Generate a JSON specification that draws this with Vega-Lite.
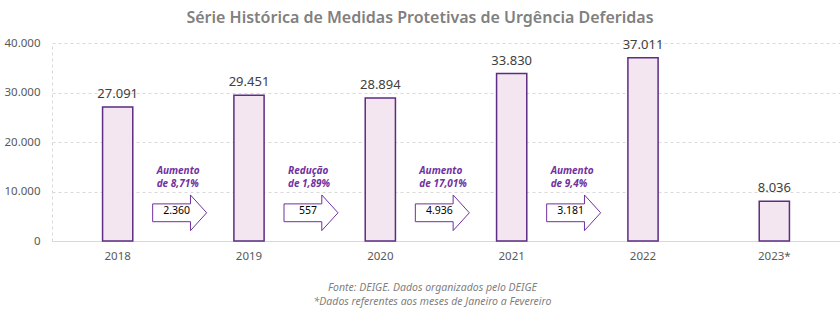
{
  "$schema": "https://vega.github.io/schema/vega-lite/v6.json",
  "width": 840,
  "height": 327,
  "autosize": {"type": "fit", "contains": "padding"},
  "padding": {"left": 4, "right": 0, "top": 10, "bottom": 20},
  "background": "white",
  "config": {
    "locale": {"number": {"decimal": ",", "thousands": ".", "grouping": [3], "currency": ["R$", ""]}},
    "view": {"stroke": null},
    "font": "Noto Sans"
  },
  "title": {
    "text": "Série Histórica de Medidas Protetivas de Urgência Deferidas",
    "fontSize": 16,
    "fontWeight": 600,
    "color": "#808080",
    "anchor": "middle",
    "frame": "group",
    "offset": 11,
    "dx": -26
  },
  "datasets": {
    "bars": [
      {"ano": "2018", "valor": 27091},
      {"ano": "2019", "valor": 29451},
      {"ano": "2020", "valor": 28894},
      {"ano": "2021", "valor": 33830},
      {"ano": "2022", "valor": 37011},
      {"ano": "2023*", "valor": 8036}
    ],
    "arrows": [
      {"de": "2018", "dif": 2360, "texto": ["Aumento", "de 8,71%"]},
      {"de": "2019", "dif": 557, "texto": ["Redução", "de 1,89%"]},
      {"de": "2020", "dif": 4936, "texto": ["Aumento", "de 17,01%"]},
      {"de": "2021", "dif": 3181, "texto": ["Aumento", "de 9,4%"]}
    ]
  },
  "layer": [
    {
      "data": {"name": "bars"},
      "mark": {"type": "bar", "fill": "#F3E6F1", "stroke": "#5C2D82", "strokeWidth": 1.5},
      "encoding": {
        "x": {
          "field": "ano", "type": "nominal", "sort": null,
          "scale": {"paddingInner": 0.77, "paddingOuter": 0.385},
          "axis": {
            "labelAngle": 0, "labelFontSize": 11.5, "labelColor": "#595959", "labelPadding": 9,
            "ticks": false, "domainColor": "#D9D9D9", "domainWidth": 1.2,
            "title": ["Fonte: DEIGE. Dados organizados pelo DEIGE", "*Dados referentes aos meses de Janeiro a Fevereiro"],
            "titleFontSize": 10.5, "titleFontStyle": "italic", "titleFontWeight": "normal",
            "titleColor": "#7F7F7F", "titlePadding": 21, "titleLineHeight": 14, "titleX": 380
          }
        },
        "y": {
          "field": "valor", "type": "quantitative",
          "scale": {"domain": [0, 40000], "nice": false},
          "axis": {
            "values": [0, 10000, 20000, 30000, 40000], "format": ",d",
            "labelFontSize": 11.5, "labelColor": "#595959", "labelPadding": 12,
            "ticks": false, "domain": true, "domainColor": "#D9D9D9", "domainDash": [3, 3],
            "gridColor": "#D9D9D9", "gridDash": [3, 3], "title": null
          }
        }
      }
    },
    {
      "data": {"name": "bars"},
      "mark": {"type": "text", "fontSize": 13, "color": "#404040", "baseline": "bottom", "dy": -6},
      "encoding": {
        "x": {"field": "ano", "type": "nominal", "sort": null},
        "y": {"field": "valor", "type": "quantitative"},
        "text": {"field": "valor", "type": "quantitative", "format": ",d"}
      }
    },
    {
      "data": {"name": "arrows"},
      "mark": {
        "type": "point", "filled": true, "fill": "white", "stroke": "#7030A0", "strokeWidth": 1,
        "opacity": 1, "size": 2916, "xOffset": 62,
        "shape": "M-1,-0.33 L0.4,-0.33 L0.4,-0.66 L1,0 L0.4,0.66 L0.4,0.33 L-1,0.33 Z"
      },
      "encoding": {
        "x": {"field": "de", "type": "nominal", "sort": null},
        "y": {"datum": 5700, "type": "quantitative"}
      }
    },
    {
      "data": {"name": "arrows"},
      "mark": {"type": "text", "fontSize": 10.5, "color": "#000000", "baseline": "middle", "dx": 59},
      "encoding": {
        "x": {"field": "de", "type": "nominal", "sort": null},
        "y": {"datum": 6100, "type": "quantitative"},
        "text": {"field": "dif", "type": "quantitative", "format": ",d"}
      }
    },
    {
      "data": {"name": "arrows"},
      "mark": {
        "type": "text", "fontSize": 10, "fontWeight": "bold", "fontStyle": "italic",
        "color": "#7030A0", "align": "left", "baseline": "top", "dx": 39, "lineHeight": 13
      },
      "encoding": {
        "x": {"field": "de", "type": "nominal", "sort": null},
        "y": {"datum": 15200, "type": "quantitative"},
        "text": {"field": "texto"}
      }
    }
  ]
}
